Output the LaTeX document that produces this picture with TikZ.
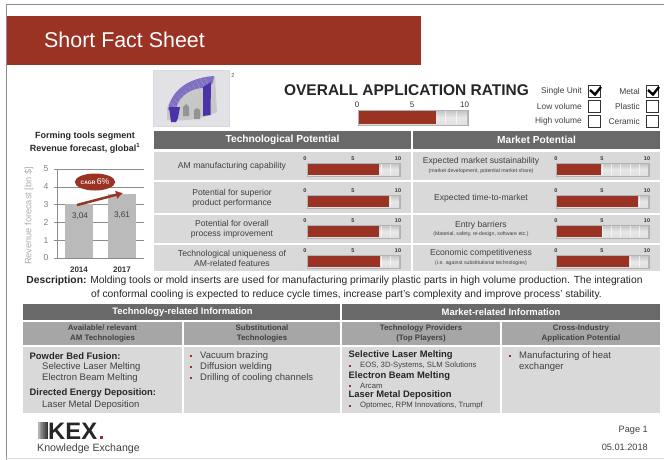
\documentclass[tikz,border=0pt]{standalone}
\usepackage{fontspec}
\usetikzlibrary{arrows.meta,shapes.geometric}
\setmainfont{Liberation Sans}
\definecolor{kred}{HTML}{9A3324}
\definecolor{kdark}{HTML}{696969}
\definecolor{kmid}{HTML}{A6A6A6}
\definecolor{klight}{HTML}{D9D9D9}
\definecolor{ktext}{HTML}{404040}
\definecolor{kpurple}{HTML}{4B32A8}
\definecolor{kthumb}{HTML}{E1E1E6}
\newcommand{\fs}[1]{\fontsize{#1}{#1}\selectfont}
\tikzset{
  txt/.style={inner sep=0pt,text=ktext,align=center,font=\fs{8.6}},
  txl/.style={inner sep=0pt,text=ktext,anchor=west,font=\fs{9.5}},
  hd/.style={inner sep=0pt,text=white,align=center,font=\bfseries\fs{10.2}},
  subhd/.style={inner sep=0pt,text=ktext,align=center,font=\bfseries\fs{7.9}},
  sm/.style={inner sep=0pt,text=ktext,font=\fs{5.2}},
  ticklab/.style={inner sep=0pt,text=black!80,font=\bfseries\fs{5.5}},
  cbox/.style={draw=black!80,line width=0.7pt},
  bul/.style={fill=kred},
}
\newcommand{\ratebar}[5]{%
  \fill[black!30] (#1-1.5,#4-1.5) rectangle (#2+1.5,#5+1.5);
  \shade[top color=black!22,bottom color=black!12,middle color=black!9] (#1,#4) rectangle (#2,#5);
  \pgfmathsetmacro{\stepw}{(#2-#1)/10}
  \foreach \k in {1,...,9}{
    \pgfmathsetmacro{\xk}{#1+\k*\stepw}
    \draw[white,opacity=.65,line width=0.5pt] (\xk,#4) -- (\xk,#5);
  }
  \fill[kred] (#1,#4) rectangle (#3,#5);
}
\newcommand{\kbul}[2]{\fill[bul] (#1-1,#2-1) rectangle (#1+1,#2+1);}
\begin{document}
\begin{tikzpicture}[x=1pt,y=-1pt]
\useasboundingbox (0,0) rectangle (664,460);
\fill[white] (0,0) rectangle (664,460);
% frame
\draw[black!45,line width=1pt] (6,460) -- (6,4.5) -- (664,4.5);
\draw[black!15,line width=1pt] (6,458) -- (664,458);
% banner
\fill[kred] (7,16) rectangle (421,65);
\node[inner sep=0pt,anchor=west,text=white,font=\fs{21.4}] (title) at (44,40) {Short Fact Sheet};
% thumbnail
\fill[black!15] (153,70) rectangle (230,127);
\fill[kthumb] (154,71) rectangle (229,126);
\fill[black!22] (167,120) -- (167,108) .. controls (172,92) and (190,80) .. (215,77) -- (217,112) .. controls (205,118) and (185,122) .. (167,120) -- cycle;
\fill[black!42] (183,116) -- (183,107) -- (186,104) -- (189,107) -- (189,116) -- cycle;
\fill[black!42] (194,119) -- (194,110) -- (197,108) -- (200,110) -- (200,119) -- cycle;
\fill[kpurple!70] (168,110) .. controls (171,92) and (186,78) .. (214,76) -- (213,82) -- (209,88) -- (203,88) .. controls (190,88) and (177,98) .. (176,110) -- cycle;
\foreach \i in {0,...,9}{
  \draw[white,opacity=.25,line width=.4pt] (171+3.6*\i,103-3.2*\i) -- (177+3.6*\i,108-2.2*\i);
}
\fill[kpurple] (203,87) -- (211,82) -- (210.5,115) -- (203,116) -- cycle;
\fill[kpurple] (169,107) -- (180,107) -- (178,118) -- (176,122) -- (171,122) -- cycle;
\node[inner sep=0pt,text=black!70,font=\fs{5.5}] (note2) at (233,76) {2};
% overall
\node[inner sep=0pt,text=black!85,font=\bfseries\fs{15.5}] (overall) at (406.5,90) {OVERALL APPLICATION RATING};
\node[inner sep=0pt,text=black!80,font=\fs{8}] (s0) at (357,105) {0};
\node[inner sep=0pt,text=black!80,font=\fs{8}] (s5) at (412,105) {5};
\node[inner sep=0pt,text=black!80,font=\fs{8}] (s10) at (464.5,105) {10};
\ratebar{359}{467}{436}{111}{124}
% check boxes
\foreach \nm/\tx/\xr/\yy in {a/Single Unit/582/91,b/Low volume/582/106,c/High volume/582/121,d/Metal/640/91,e/Plastic/640/106,f/Ceramic/640/121}{
  \node[inner sep=0pt,anchor=east,text=ktext,font=\fs{8.4}] (lab\nm) at (\xr,\yy) {\tx};
  \draw[cbox] (\xr+6,\yy-5.5) rectangle (\xr+18,\yy+6);
}
\foreach \xr in {582,640}{
  \draw[black,line width=2.4pt] (\xr+8,90) -- (\xr+13,94.5) -- (\xr+19,87);
}
% tech/market headers
\fill[kdark] (154,131) rectangle (411,149);
\fill[kdark] (413,131) rectangle (660,149);
\node[hd] (tp) at (282.5,140) {Technological Potential};
\node[hd] (mp) at (536.5,140) {Market Potential};
% rows
\foreach \ya/\yb in {152/180,182/213,215/243,245/271}{
  \fill[klight] (154,\ya) rectangle (411,\yb);
  \fill[klight] (413,\ya) rectangle (660,\yb);
}
\node[txt] (t1) at (232,166) {AM manufacturing capability};
\node[txt] (t2) at (232,198) {Potential for superior\\[1.6pt]product performance};
\node[txt] (t3) at (232,229) {Potential for overall\\[1.6pt]process improvement};
\node[txt] (t4) at (232,258.5) {Technological uniqueness of\\[1.6pt]AM-related features};
\node[txt] (m1) at (481,161.5) {Expected market sustainability};
\node[sm] (m1b) at (481,171) {(market development, potential market share)};
\node[txt] (m2) at (481,198) {Expected time-to-market};
\node[txt] (m3) at (481,225) {Entry barriers};
\node[sm] (m3b) at (481,234.5) {(Material, safety, re-design, software etc.)};
\node[txt] (m4) at (481,253.5) {Economic competitiveness};
\node[sm] (m4b) at (481,263) {(i.e. against substitutional technologies)};
% bars
\foreach \yt/\xr in {164/379,196/389,226/379,256/380}{
  \ratebar{308}{399}{\xr}{\yt}{\yt+11}
  \node[ticklab] at (305,\yt-5) {0};
  \node[ticklab] at (353,\yt-5) {5};
  \node[ticklab] at (398,\yt-5) {10};
}
\foreach \yt/\xr in {164/601,196/638,226/602,256/629}{
  \ratebar{557}{648}{\xr}{\yt}{\yt+11}
  \node[ticklab] at (556,\yt-5) {0};
  \node[ticklab] at (602,\yt-5) {5};
  \node[ticklab] at (647,\yt-5) {10};
}
% chart
\node[inner sep=0pt,align=center,text=black!85,font=\bfseries\fs{9}] (ctitle) at (85,142.5) {Forming tools segment\\[2pt]Revenue forecast, global\textsuperscript{1}};
\foreach \v in {0,...,5}{
  \draw[black!45,line width=.5pt] (54,258-17.8*\v) -- (144,258-17.8*\v);
  \node[inner sep=0pt,text=black!50,font=\fs{8.6}] at (46,258-17.8*\v) {\v};
}
\draw[black!45,line width=.5pt] (57,169) -- (57,258);
\fill[black!27] (65,204) rectangle (93,258);
\fill[black!27] (108,194) rectangle (136,258);
\node[inner sep=0pt,text=ktext,font=\fs{8.2}] (v1) at (80,216) {3,04};
\node[inner sep=0pt,text=ktext,font=\fs{8.2}] (v2) at (122,215) {3,61};
\node[inner sep=0pt,rotate=90,text=black!32,font=\fs{9.2}] (ylab) at (29,216) {Revenue forecast [bn \$]};
\node[inner sep=0pt,text=black!80,font=\bfseries\fs{8}] (y1) at (79,270) {2014};
\node[inner sep=0pt,text=black!80,font=\bfseries\fs{8}] (y2) at (122,270) {2017};
\coordinate (arrA) at (77,205);
\coordinate (arrB) at (123,193);
\draw[kred,line width=2.5pt,-{Latex[length=7pt,width=9pt]}] (arrA) -- (arrB);
\node[ellipse,fill=kred,minimum width=40pt,minimum height=17pt,inner sep=0pt,text=white] (cagr) at (95,182) {\fs{5}\textbf{CAGR} \fs{8.6}6\%};
% description
\node[inner sep=0pt,text=black!85,font=\fs{10.3}] (d1) at (334.5,281) {\textbf{Description:} Molding tools or mold inserts are used for manufacturing primarily plastic parts in high volume production. The integration};
\node[inner sep=0pt,text=black!85,font=\fs{10.3}] (d2) at (346.5,295) {of conformal cooling is expected to reduce cycle times, increase part’s complexity and improve process’ stability.};
% lower table
\fill[kdark] (23,304) rectangle (340,319.5);
\fill[kdark] (342,304) rectangle (660,319.5);
\node[hd,font=\bfseries\fs{9.4}] (h1) at (182.5,312) {Technology-related Information};
\node[hd,font=\bfseries\fs{9.4}] (h2) at (501,312) {Market-related Information};
\foreach \xa/\xb in {23/182,184/340,342/500,502/660}{
  \fill[kmid] (\xa,322) rectangle (\xb,345);
  \fill[klight] (\xa,347) rectangle (\xb,413);
}
\node[subhd] (c1) at (102.5,333.5) {Available/ relevant\\[2pt]AM Technologies};
\node[subhd] (c2) at (262,333.5) {Substitutional\\[2pt]Technologies};
\node[subhd] (c3) at (421,333.5) {Technology Providers\\[2pt](Top Players)};
\node[subhd] (c4) at (581,333.5) {Cross-Industry\\[2pt]Application Potential};
\tikzset{bh/.style={txl,text=black!85,font=\bfseries\fs{9.4}}}
\node[bh] (p1) at (29.5,356) {Powder Bed Fusion:};
\node[txl] (p2) at (42,367) {Selective Laser Melting};
\node[txl] (p3) at (42,378) {Electron Beam Melting};
\node[bh] (p4) at (29.5,393) {Directed Energy Deposition:};
\node[txl] (p5) at (42,405) {Laser Metal Deposition};
\foreach \yy/\tx in {356/Vacuum brazing,367/Diffusion welding,378/Drilling of cooling channels}{
  \kbul{191}{\yy}
  \node[txl] at (200,\yy) {\tx};
}
\node[bh] (q1) at (348.5,355) {Selective Laser Melting};
\node[txl,font=\fs{7.7}] (q2) at (360,365.5) {EOS, 3D-Systems, SLM Solutions};
\node[bh] (q3) at (348.5,376) {Electron Beam Melting};
\node[txl,font=\fs{7.7}] (q4) at (360,385.5) {Arcam};
\node[bh] (q5) at (348.5,395.5) {Laser Metal Deposition};
\node[txl,font=\fs{7.7}] (q6) at (360,406) {Optomec, RPM Innovations, Trumpf};
\foreach \yy in {365.5,385.5,406}{\kbul{350}{\yy}}
\kbul{509.5}{356}
\node[txl] (r1) at (519,356) {Manufacturing of heat};
\node[txl] (r2) at (519,367) {exchanger};
% logo
\foreach \xx/\cc in {38/30,39.7/40,41.4/50,43.1/60,44.8/70,46.5/80}{
  \fill[black!\cc] (\xx,422) rectangle (\xx+1.7,439);
}
\node[inner sep=0pt,anchor=base west,text=black!85,font=\bfseries\fs{23.8}] (kex) at (48,439) {KEX};
\fill[kred] (99.5,435.5) rectangle (103,439);
\node[inner sep=0pt,anchor=west,text=ktext,font=\fs{10.6}] (know) at (37,448.5) {Knowledge Exchange};
% footer
\node[inner sep=0pt,anchor=east,text=ktext,font=\fs{9.2}] (pg) at (648,430) {Page 1};
\node[inner sep=0pt,anchor=east,text=ktext,font=\fs{9.2}] (dt) at (648,447) {05.01.2018};
\end{tikzpicture}
\end{document}
